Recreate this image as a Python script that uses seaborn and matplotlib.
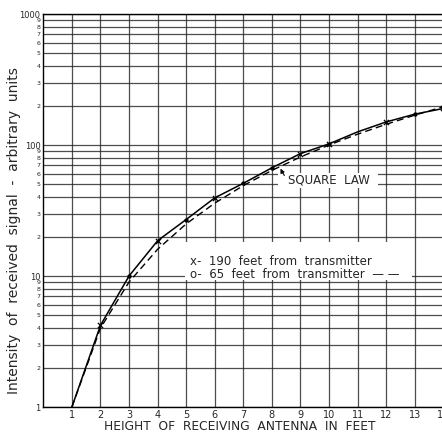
import numpy as np
import pandas as pd
import matplotlib
matplotlib.use("Agg")
import matplotlib.pyplot as plt
from matplotlib.ticker import FixedLocator, FixedFormatter
from matplotlib.patches import Rectangle
import seaborn as sns

# Receiving antenna height (feet)
heights = [1, 2, 3, 4, 5, 6, 7, 8, 9, 10, 11, 12, 13, 14]
# Measured intensity (smooth curve through observations)
measured = [1, 4.2, 10, 18.6, 27, 39.5, 51, 67, 86, 102, 126, 150, 172, 190]
# Square-law reference
square_law = [1, 4, 9, 16, 25, 36, 49, 64, 81, 100, 121, 144, 169, 196]

# Observation points
far_h = [2, 4, 6, 9, 10, 12, 14]            # 190 feet from transmitter
far_v = [4.2, 18.6, 39.5, 86, 102, 150, 190]
near_h = [3, 5, 7, 8, 10, 13]               # 65 feet from transmitter
near_v = [10, 27, 51, 67, 102, 172]

x_ticks = list(range(1, 15))
decades = [1, 10, 100, 1000]
minor_digits = [2, 3, 4, 5, 6, 7, 8, 9]

sns.set_style("white")
plt.rcParams["font.family"] = ["DejaVu Sans"]

fig = plt.figure(figsize=(4.42, 4.34), dpi=100)
ax = fig.add_axes([0.098, 0.0622, 0.905, 0.9055])

df = pd.DataFrame({"h": heights, "measured": measured, "square": square_law})
sns.lineplot(data=df, x="h", y="measured", ax=ax, color="black", lw=1.1, zorder=5)
sns.lineplot(data=df, x="h", y="square", ax=ax, color="black", lw=1.0,
             dashes=False, linestyle=(0, (5, 3)), zorder=5)
sns.scatterplot(x=far_h, y=far_v, ax=ax, marker="x", s=14, color="black",
                linewidth=0.9, zorder=6)
sns.scatterplot(x=near_h, y=near_v, ax=ax, marker="o", s=8, color="black",
                edgecolor="black", zorder=6)

ax.set_yscale("log")
ax.set_xlim(0, 14)
ax.set_ylim(1, 1000)

# graph-paper grid
ax.xaxis.set_major_locator(FixedLocator(x_ticks))
ax.xaxis.set_major_formatter(FixedFormatter([str(t) for t in x_ticks]))
ax.yaxis.set_major_locator(FixedLocator(decades))
ax.yaxis.set_major_formatter(FixedFormatter([str(d) for d in decades]))
minor_pos = [d * m for d in decades[:-1] for m in minor_digits]
ax.yaxis.set_minor_locator(FixedLocator(minor_pos))
ax.yaxis.set_minor_formatter(FixedFormatter([str(m) for d in decades[:-1] for m in minor_digits]))

ax.grid(True, which="major", axis="x", color="#222222", lw=0.9, alpha=0.8)
ax.grid(True, which="both", axis="y", color="#222222", lw=0.9, alpha=0.8)
ax.set_axisbelow(True)

ax.tick_params(axis="x", which="major", length=0, pad=2, labelsize=7)
ax.tick_params(axis="y", which="major", length=0, pad=2, labelsize=6)
ax.tick_params(axis="y", which="minor", length=0, pad=2, labelsize=4.5)

for side in ["left", "bottom", "top", "right"]:
    ax.spines[side].set_color("black")
    ax.spines[side].set_linewidth(1.0)

ax.set_xlabel("HEIGHT  OF  RECEIVING  ANTENNA  IN  FEET", fontsize=8.8)
ax.set_ylabel("Intensity  of  received  signal  -  arbitrary  units", fontsize=10)
ax.yaxis.set_label_coords(-0.056, 0.45)
ax.xaxis.set_label_coords(0.49, -0.034)

# key box
ax.add_patch(Rectangle((4.96, 9.3), 7.95, 8.9, facecolor="white",
                       edgecolor="none", zorder=3))
ax.text(5.13, 12.8, "x-  190  feet  from  transmitter", fontsize=8.5,
        va="center", ha="left", zorder=4)
ax.text(5.13, 10.2, "o-  65  feet  from  transmitter  — —", fontsize=8.5,
        va="center", ha="left", zorder=4)

# square-law label
ax.add_patch(Rectangle((8.2, 47), 3.5, 14, facecolor="white",
                       edgecolor="none", zorder=3))
ax.annotate("SQUARE  LAW", xy=(8.3, 66), xytext=(8.55, 54),
            fontsize=8.5, va="center", ha="left", zorder=4,
            arrowprops=dict(arrowstyle="-|>", color="black", lw=0.8,
                            mutation_scale=6,
                            connectionstyle="arc3,rad=-0.6",
                            shrinkA=0, shrinkB=0))

fig.savefig("out.png", dpi=100, facecolor="white")
